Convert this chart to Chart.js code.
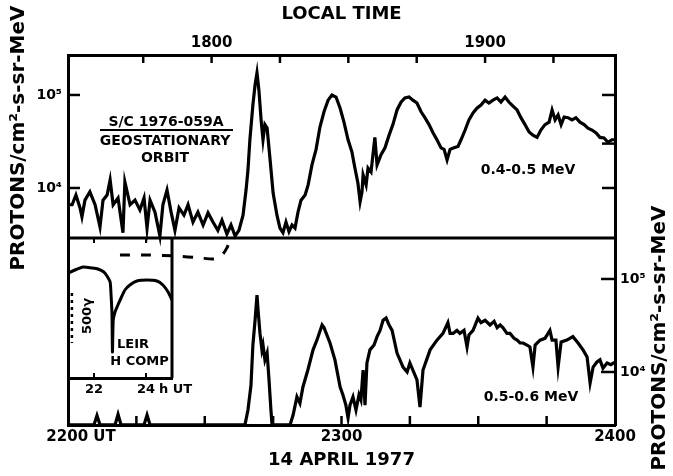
<!DOCTYPE html>
<html><head><meta charset="utf-8">
<script src="https://cdn.jsdelivr.net/npm/chart.js@4.4.1/dist/chart.umd.min.js"></script>
<style>
html,body{margin:0;padding:0;background:#fff;}
#wrap{position:relative;width:673px;height:476px;overflow:hidden;background:#fff;}
#main{position:absolute;left:0;top:0;}
#inset{position:absolute;left:60px;top:230px;}
</style></head><body>
<div id="wrap"><canvas id="main" width="673" height="476"></canvas><canvas id="inset" width="160" height="175"></canvas></div>
<script>
// ---------- DATA ----------
// Upper panel: 0.4-0.5 MeV protons (UT hours, flux)
const UPPER_UT = [22.000,22.015,22.029,22.044,22.051,22.062,22.080,22.099,22.117,22.128,22.143,22.154,22.165,22.183,22.201,22.208,22.227,22.245,22.263,22.278,22.289,22.300,22.318,22.336,22.347,22.362,22.377,22.391,22.406,22.424,22.439,22.457,22.475,22.494,22.512,22.530,22.548,22.563,22.581,22.596,22.611,22.625,22.640,22.651,22.658,22.665,22.676,22.684,22.691,22.698,22.706,22.713,22.720,22.728,22.739,22.750,22.764,22.775,22.786,22.797,22.808,22.819,22.830,22.841,22.852,22.867,22.878,22.892,22.907,22.921,22.936,22.951,22.965,22.980,22.995,23.009,23.024,23.038,23.049,23.060,23.068,23.075,23.079,23.090,23.097,23.108,23.122,23.130,23.144,23.159,23.174,23.188,23.203,23.218,23.232,23.247,23.261,23.276,23.291,23.305,23.320,23.335,23.349,23.364,23.375,23.386,23.397,23.411,23.426,23.437,23.452,23.466,23.481,23.495,23.510,23.525,23.539,23.554,23.569,23.583,23.598,23.612,23.627,23.642,23.656,23.671,23.686,23.700,23.715,23.729,23.744,23.759,23.770,23.781,23.792,23.803,23.814,23.828,23.843,23.857,23.872,23.887,23.901,23.916,23.931,23.945,23.960,23.974,23.989,24.000];
const UPPER_FLUX = [6600,6600,8400,6100,4900,7400,9100,6600,3800,7400,8400,12200,6600,7800,3300,11600,6600,7400,5800,7800,3700,7400,5500,3050,6600,9500,5500,3500,6100,5100,6600,4300,5500,4000,5400,4300,3500,4500,3200,4000,3050,3500,5100,9500,15600,33000,78000,128000,173000,113000,54000,33000,48000,44000,20000,8800,5100,3700,3300,4300,3400,4000,3700,5500,7400,8400,10800,17700,26000,45000,66000,88000,100000,95000,72000,51000,33000,24500,16400,11300,7100,9100,13800,10800,16400,14900,35000,17700,22600,27000,37000,48000,69000,84000,93000,95000,88000,82000,66000,57000,48000,39000,33000,27000,26000,20000,26000,27000,28000,33000,42000,54000,64000,72000,78000,88000,82000,88000,93000,84000,95000,84000,76000,69000,57000,48000,40000,37000,35000,42000,48000,51000,69000,54000,61000,48000,58000,57000,54000,57000,51000,48000,44000,42000,39000,35000,34500,31000,33000,33000];
// Upper panel: dashed continuation below the panel floor
const DASH_UT = [22.190,22.300,22.391,22.483,22.537,22.563,22.581,22.592];
const DASH_FLUX = [1900,1900,1860,1770,1730,1900,2270,2760];
// Lower panel: 0.5-0.6 MeV protons
const LOWER_UT = [22.000,22.095,22.106,22.117,22.172,22.183,22.194,22.278,22.289,22.300,22.647,22.658,22.669,22.676,22.684,22.691,22.695,22.702,22.709,22.713,22.720,22.728,22.735,22.742,22.746,22.812,22.823,22.837,22.848,22.859,22.877,22.896,22.910,22.929,22.936,22.958,22.976,22.995,23.005,23.016,23.024,23.031,23.042,23.053,23.064,23.071,23.079,23.086,23.093,23.104,23.119,23.130,23.141,23.152,23.163,23.174,23.185,23.203,23.225,23.240,23.250,23.261,23.276,23.287,23.298,23.324,23.349,23.371,23.389,23.397,23.408,23.422,23.433,23.448,23.459,23.466,23.481,23.499,23.510,23.525,23.543,23.558,23.569,23.580,23.590,23.605,23.616,23.631,23.642,23.653,23.664,23.678,23.689,23.700,23.708,23.726,23.744,23.762,23.770,23.784,23.792,23.803,23.824,23.846,23.865,23.883,23.898,23.909,23.920,23.934,23.945,23.956,23.971,23.985,24.000];
const LOWER_FLUX = [2700,2700,3400,2700,2700,3500,2700,2700,3450,2700,2700,3900,7200,19500,36000,67000,46000,26000,17300,19500,13500,16000,8200,3900,2700,2700,3450,5400,4600,6900,10500,17300,22000,32000,30000,20500,13500,6900,5700,4400,3200,4400,5400,3900,5700,5000,10500,4400,12500,17300,19500,24000,28000,36000,38000,32000,28000,16000,11300,10000,12500,10500,8200,4200,10500,17300,22000,26000,34000,26000,26000,28000,26000,28000,18600,25000,28000,38000,34000,36000,32000,35000,30000,32000,30000,26000,26000,23000,22000,20500,20500,19500,18600,11300,19500,22000,23000,28000,22000,22000,11300,21000,22000,24000,20500,17300,14500,7600,11300,12800,13500,11000,12500,12000,12800];
// Inset: Leirvogsstua H component (UT hours, gamma)
const INSET_UT = [21.00,21.27,21.58,21.92,22.15,22.38,22.50,22.62,22.65,22.69,22.71,22.74,22.81,22.92,23.04,23.19,23.38,23.65,24.04,24.42,24.65,24.85,25.00];
const INSET_H = [-50,-20,10,0,-10,-40,-80,-140,-240,-450,-840,-520,-440,-370,-300,-220,-170,-130,-120,-130,-170,-240,-320];

// ---------- AXES ----------
const UT_TICKS = [22,22.25,22.5,22.75,23,23.25,23.5,23.75,24];
const UT_TICK_LABELS = ['     2200 UT','','','','2300','','','','2400'];
const LT_OFFSET = 4.525;
const LT_TICKS = [17.75,18,18.25,18.5,18.75,19,19.25];
const LT_TICK_LABELS = ['','1800','','','','1900',''];
const Y_LABEL_TICKS = [1e4,1e5];
const Y_LABELS = ['10\u2074','10\u2075'];
const Y1_RIGHT_TICKS = [1e4,3e4,1e5];
const Y1_MIN = 28.3, Y1_MAX = 2.69e5;
const Y2_MIN = 2692, Y2_MAX = 2.56e7;
const PANEL_FLOOR = 2900;
const INSET_TICKS = [22,24];
const INSET_TICK_LABELS = ['22','24'];

Chart.defaults.font.family = "'DejaVu Sans', sans-serif";
Chart.defaults.font.weight = 'bold';
Chart.defaults.color = '#000';

function ln(ctx,x1,y1,x2,y2){ctx.beginPath();ctx.moveTo(x1,y1);ctx.lineTo(x2,y2);ctx.stroke();}
function rotText(ctx,t,x,y){ctx.save();ctx.translate(x,y);ctx.rotate(-Math.PI/2);ctx.fillText(t,0,0);ctx.restore();}

const mainDecor = {
  id:'mainDecor',
  afterDatasetsDraw(chart){
    const {ctx, chartArea:a, scales:{x,x2,y1,y2}} = chart;
    ctx.save();
    ctx.strokeStyle='#000'; ctx.fillStyle='#000'; ctx.lineCap='butt';
    ctx.lineWidth=3;
    const ym = y1.getPixelForValue(PANEL_FLOOR);
    ln(ctx,a.left,ym,a.right,ym);
    ctx.lineWidth=2.5;
    LT_TICKS.forEach(v=>{const p=x2.getPixelForValue(v); ln(ctx,p,a.top,p,a.top+8);});
    UT_TICKS.slice(1,-1).forEach(v=>{const p=x.getPixelForValue(v); ln(ctx,p,a.bottom,p,a.bottom-9);});
    Y_LABEL_TICKS.forEach(v=>{const p=y1.getPixelForValue(v); ln(ctx,a.left,p,a.left+12,p);});
    Y1_RIGHT_TICKS.forEach(v=>{const p=y1.getPixelForValue(v); ln(ctx,a.right,p,a.right-13,p);});
    Y_LABEL_TICKS.forEach(v=>{const p=y2.getPixelForValue(v); ln(ctx,a.right,p,a.right-14,p);});
    // annotations
    ctx.textAlign='center'; ctx.textBaseline='middle';
    ctx.font="bold 14px 'DejaVu Sans'";
    ctx.fillText('S/C 1976-059A',166,122);
    ctx.lineWidth=2; ln(ctx,100,130,233,130);
    ctx.fillText('GEOSTATIONARY',165,141);
    ctx.fillText('ORBIT',165,158);
    ctx.fillText('0.4-0.5 MeV',528,170);
    ctx.fillText('0.5-0.6 MeV',531,397);
    ctx.font="bold 20px 'DejaVu Sans'";
    rotText(ctx,'PROTONS/cm\u00B2-s-sr-MeV',19,138);
    rotText(ctx,'PROTONS/cm\u00B2-s-sr-MeV',660,338);
    ctx.restore();
  }
};

const tickFont = {size:15, weight:'bold'};
const noGrid = {display:true, drawOnChartArea:false, drawTicks:false, color:'rgba(0,0,0,0)'};
const border = {display:true, width:3, color:'#000'};

new Chart(document.getElementById('main'), {
  type:'line',
  data:{datasets:[
    {data:UPPER_UT.map((t,i)=>({x:t,y:UPPER_FLUX[i]})), xAxisID:'x', yAxisID:'y1', borderColor:'#000', borderWidth:3.2, pointRadius:0, tension:0},
    {data:DASH_UT.map((t,i)=>({x:t,y:DASH_FLUX[i]})), xAxisID:'x', yAxisID:'y1', borderColor:'#000', borderWidth:3, borderDash:[10,11], pointRadius:0, tension:0.3},
    {data:LOWER_UT.map((t,i)=>({x:t,y:LOWER_FLUX[i]})), xAxisID:'x', yAxisID:'y2', borderColor:'#000', borderWidth:3.2, pointRadius:0, tension:0}
  ]},
  options:{
    responsive:false, animation:false, devicePixelRatio:1,
    layout:{padding:0},
    plugins:{legend:{display:false}, tooltip:{enabled:false}},
    scales:{
      x:{type:'linear', position:'bottom', min:UT_TICKS[0], max:UT_TICKS[UT_TICKS.length-1],
        afterBuildTicks:s=>{s.ticks=UT_TICKS.map(v=>({value:v}));},
        ticks:{autoSkip:false, maxRotation:0, padding:3, font:tickFont, color:'#000', callback:(v,i)=>UT_TICK_LABELS[i]},
        grid:noGrid, border:border,
        title:{display:true, text:'14 APRIL 1977', font:{size:18,weight:'bold'}, color:'#000', padding:{top:0,bottom:5}},
        afterFit:s=>{s.height=51;}},
      x2:{type:'linear', position:'top', min:UT_TICKS[0]-LT_OFFSET, max:UT_TICKS[UT_TICKS.length-1]-LT_OFFSET,
        afterBuildTicks:s=>{s.ticks=LT_TICKS.map(v=>({value:v}));},
        ticks:{autoSkip:false, maxRotation:0, padding:3, font:tickFont, color:'#000', callback:(v,i)=>LT_TICK_LABELS[i]},
        grid:noGrid, border:border,
        title:{display:true, text:'LOCAL TIME', font:{size:18,weight:'bold'}, color:'#000', padding:{top:4,bottom:0}},
        afterFit:s=>{s.height=55;}},
      y1:{type:'logarithmic', position:'left', min:Y1_MIN, max:Y1_MAX,
        afterBuildTicks:s=>{s.ticks=Y_LABEL_TICKS.map(v=>({value:v}));},
        ticks:{autoSkip:false, padding:6, font:{size:14,weight:'bold'}, color:'#000', callback:(v,i)=>Y_LABELS[i]},
        grid:noGrid, border:border,
        afterFit:s=>{s.width=68;}},
      y2:{type:'logarithmic', position:'right', min:Y2_MIN, max:Y2_MAX,
        afterBuildTicks:s=>{s.ticks=Y_LABEL_TICKS.map(v=>({value:v}));},
        ticks:{autoSkip:false, padding:5, font:{size:14,weight:'bold'}, color:'#000', callback:(v,i)=>Y_LABELS[i]},
        grid:noGrid, border:border,
        afterFit:s=>{s.width=58;}}
    }
  },
  plugins:[mainDecor]
});

const insetDecor = {
  id:'insetDecor',
  afterDatasetsDraw(chart){
    const {ctx, chartArea:a, scales:{x,y}} = chart;
    ctx.save();
    ctx.strokeStyle='#000'; ctx.fillStyle='#000';
    ctx.lineWidth=3; ln(ctx,a.right,a.top,a.right,a.bottom);
    ctx.lineWidth=2;
    INSET_TICKS.forEach(v=>{const p=x.getPixelForValue(v); ln(ctx,p,a.bottom,p,a.bottom-5); ln(ctx,p,a.top,p,a.top+5);});
    ctx.setLineDash([3,4]); ctx.lineWidth=2.5;
    const bx=x.getPixelForValue(21.15);
    ln(ctx,bx,y.getPixelForValue(-250),bx,y.getPixelForValue(-750));
    ctx.setLineDash([]);
    ctx.font="bold 13px 'DejaVu Sans'"; ctx.textAlign='center'; ctx.textBaseline='middle';
    rotText(ctx,'500\u03B3',x.getPixelForValue(21.75),y.getPixelForValue(-480));
    ctx.fillText('LEIR',x.getPixelForValue(23.5),y.getPixelForValue(-770));
    ctx.fillText('H COMP',x.getPixelForValue(23.75),y.getPixelForValue(-940));
    ctx.textAlign='left';
    ctx.fillText('h UT',x.getPixelForValue(24)+13,a.bottom+4+7.8);
    ctx.restore();
  }
};

new Chart(document.getElementById('inset'), {
  type:'line',
  data:{datasets:[{data:INSET_UT.map((t,i)=>({x:t,y:INSET_H[i]})), borderColor:'#000', borderWidth:3, pointRadius:0, tension:0.2}]},
  options:{
    responsive:false, animation:false, devicePixelRatio:1,
    layout:{padding:{left:8,top:8,right:48,bottom:0}},
    plugins:{legend:{display:false}, tooltip:{enabled:false}},
    scales:{
      x:{type:'linear', position:'bottom', min:21, max:25,
        afterBuildTicks:s=>{s.ticks=INSET_TICKS.map(v=>({value:v}));},
        ticks:{autoSkip:false, maxRotation:0, padding:4, font:{size:13,weight:'bold'}, color:'#000', callback:(v,i)=>INSET_TICK_LABELS[i]},
        grid:noGrid, border:{display:true, width:3, color:'#000'},
        afterFit:s=>{s.height=27;}},
      y:{type:'linear', min:-1100, max:300, display:false}
    }
  },
  plugins:[insetDecor]
});
</script>
</body></html>
